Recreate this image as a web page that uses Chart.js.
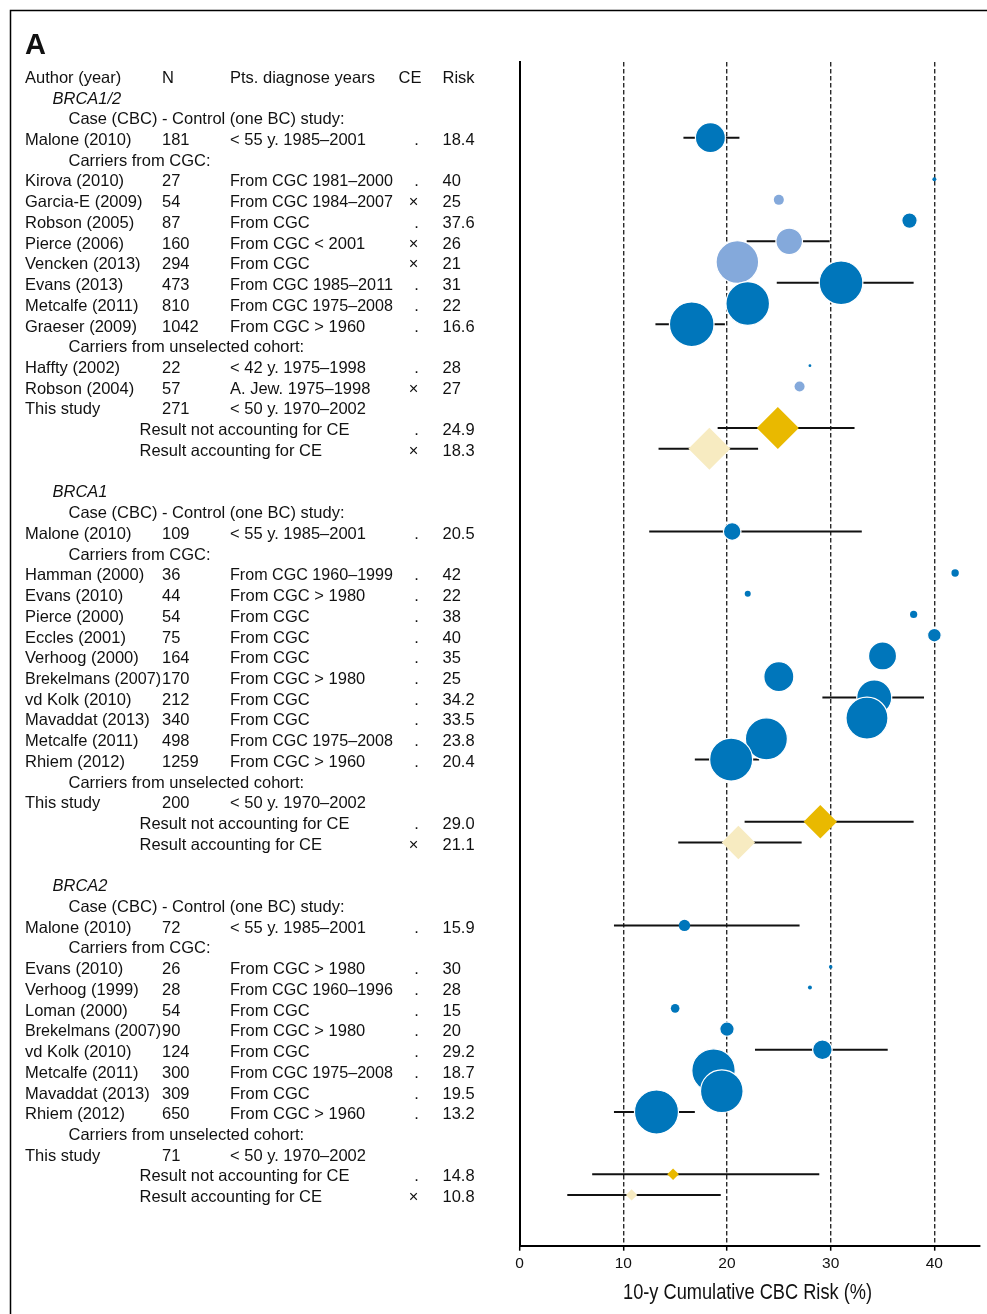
<!DOCTYPE html>
<html>
<head>
<meta charset="utf-8">
<script src="https://cdn.jsdelivr.net/npm/chart.js@4"></script>
<style>
  html, body { margin: 0; padding: 0; background: #fff; }
  canvas { display: block; }
</style>
</head>
<body>
<canvas id="forest" width="987" height="1314"></canvas>
<script>
// ---- Table rows (one entry per line of the table, top to bottom) ----
// kind: H header, G gene, S subgroup heading, P published study,
//       T this study, R pooled result of this study, B blank line
const rowKind = ['H','G','S','P','S','P','P','P','P','P','P','P','P','S','P','P','T','R','R','B',
                 'G','S','P','S','P','P','P','P','P','P','P','P','P','P','S','T','R','R','B',
                 'G','S','P','S','P','P','P','P','P','P','P','P','S','T','R','R'];

const columnHeads = ['Author (year)', 'N', 'Pts. diagnose years', 'CE', 'Risk'];

const rowLabel = [null, 'BRCA1/2', 'Case (CBC) - Control (one BC) study:', 'Malone (2010)', 'Carriers from CGC:',
  'Kirova (2010)', 'Garcia-E (2009)', 'Robson (2005)', 'Pierce (2006)', 'Vencken (2013)', 'Evans (2013)',
  'Metcalfe (2011)', 'Graeser (2009)', 'Carriers from unselected cohort:', 'Haffty (2002)', 'Robson (2004)',
  'This study', 'Result not accounting for CE', 'Result accounting for CE', null,
  'BRCA1', 'Case (CBC) - Control (one BC) study:', 'Malone (2010)', 'Carriers from CGC:',
  'Hamman (2000)', 'Evans (2010)', 'Pierce (2000)', 'Eccles (2001)', 'Verhoog (2000)', 'Brekelmans (2007)',
  'vd Kolk (2010)', 'Mavaddat (2013)', 'Metcalfe (2011)', 'Rhiem (2012)', 'Carriers from unselected cohort:',
  'This study', 'Result not accounting for CE', 'Result accounting for CE', null,
  'BRCA2', 'Case (CBC) - Control (one BC) study:', 'Malone (2010)', 'Carriers from CGC:',
  'Evans (2010)', 'Verhoog (1999)', 'Loman (2000)', 'Brekelmans (2007)', 'vd Kolk (2010)', 'Metcalfe (2011)',
  'Mavaddat (2013)', 'Rhiem (2012)', 'Carriers from unselected cohort:',
  'This study', 'Result not accounting for CE', 'Result accounting for CE'];

const rowN = [null, null, null, '181', null, '27', '54', '87', '160', '294', '473', '810', '1042', null,
  '22', '57', '271', null, null, null,
  null, null, '109', null, '36', '44', '54', '75', '164', '170', '212', '340', '498', '1259', null,
  '200', null, null, null,
  null, null, '72', null, '26', '28', '54', '90', '124', '300', '309', '650', null,
  '71', null, null];

const rowYears = [null, null, null, '< 55 y. 1985–2001', null, 'From CGC 1981–2000', 'From CGC 1984–2007',
  'From CGC', 'From CGC < 2001', 'From CGC', 'From CGC 1985–2011', 'From CGC 1975–2008', 'From CGC > 1960',
  null, '< 42 y. 1975–1998', 'A. Jew. 1975–1998', '< 50 y. 1970–2002', null, null, null,
  null, null, '< 55 y. 1985–2001', null, 'From CGC 1960–1999', 'From CGC > 1980', 'From CGC', 'From CGC',
  'From CGC', 'From CGC > 1980', 'From CGC', 'From CGC', 'From CGC 1975–2008', 'From CGC > 1960', null,
  '< 50 y. 1970–2002', null, null, null,
  null, null, '< 55 y. 1985–2001', null, 'From CGC > 1980', 'From CGC 1960–1996', 'From CGC',
  'From CGC > 1980', 'From CGC', 'From CGC 1975–2008', 'From CGC', 'From CGC > 1960', null,
  '< 50 y. 1970–2002', null, null];

// competing-event correction: '×' accounted for, '.' not
const rowCE = [null, null, null, '.', null, '.', '×', '.', '×', '×', '.', '.', '.', null, '.', '×', null, '.', '×', null,
  null, null, '.', null, '.', '.', '.', '.', '.', '.', '.', '.', '.', '.', null, null, '.', '×', null,
  null, null, '.', null, '.', '.', '.', '.', '.', '.', '.', '.', null, null, '.', '×'];

// 10-year cumulative contralateral breast cancer risk (%)
const rowRisk = [null, null, null, '18.4', null, '40', '25', '37.6', '26', '21', '31', '22', '16.6', null,
  '28', '27', null, '24.9', '18.3', null,
  null, null, '20.5', null, '42', '22', '38', '40', '35', '25', '34.2', '33.5', '23.8', '20.4', null,
  null, '29.0', '21.1', null,
  null, null, '15.9', null, '30', '28', '15', '20', '29.2', '18.7', '19.5', '13.2', null,
  null, '14.8', '10.8'];

// 95% confidence limits, where reported
const ciLow = [null, null, null, 15.8, null, null, null, null, 21.9, null, 24.8, null, 13.1, null,
  null, null, null, 19.1, 13.4, null,
  null, null, 12.5, null, null, null, null, null, null, null, 29.2, null, null, 16.9, null,
  null, 21.7, 15.3, null,
  null, null, 9.1, null, null, null, null, null, 22.7, null, null, 9.1, null,
  null, 7.0, 4.6];
const ciHigh = [null, null, null, 21.2, null, null, null, null, 29.9, null, 38.0, null, 19.8, null,
  null, null, null, 32.3, 23.0, null,
  null, null, 33.0, null, null, null, null, null, null, null, 39.0, null, null, 23.1, null,
  null, 38.0, 27.2, null,
  null, null, 27.0, null, null, null, null, null, 35.5, null, null, 16.9, null,
  null, 28.9, 19.4];

// relative weight of each estimate (drives marker size)
const weight = [null, null, null, 15, null, 2, 5, 7.7, 13.3, 21.3, 21.8, 21.8, 22.3, null,
  1.4, 5, null, 21, 21, null,
  null, null, 8.8, null, 3.7, 3, 3.6, 6.8, 14, 15, 17.5, 21, 21, 21.5, null,
  null, 16.7, 16.7, null,
  null, null, 5.7, null, 1.8, 2, 4.3, 7.2, 9.8, 21.7, 21.3, 22, null,
  null, 5.8, 5.7];

const xTicks = [0, 10, 20, 30, 40];
const xTitle = '10-y Cumulative CBC Risk (%)';
const panelLetter = 'A';

// ---- colours ----
const DARK_BLUE = '#0076bb';
const LIGHT_BLUE = '#84a9db';
const GOLD = '#e9b900';
const PALE_GOLD = '#f7ebc1';

const rows = rowKind.map((k, i) => i);

// confidence interval segments
const ciDatasets = rows.filter(i => ciLow[i] != null).map(i => ({
  type: 'scatter',
  data: [{ x: ciLow[i], y: i }, { x: ciHigh[i], y: i }],
  showLine: true,
  borderColor: '#111',
  borderWidth: 2,
  pointRadius: 0,
  order: 3
}));

const studyRows = rows.filter(i => rowKind[i] === 'P');
const resultRows = rows.filter(i => rowKind[i] === 'R');

const studyDataset = {
  type: 'bubble',
  data: studyRows.map(i => ({ x: Number(rowRisk[i]), y: i, r: weight[i] })),
  backgroundColor: studyRows.map(i => rowCE[i] === '×' ? LIGHT_BLUE : DARK_BLUE),
  borderColor: '#fff',
  // thin white rim only on the larger discs so the tiny ones stay visible
  borderWidth: c => (c.raw && c.raw.r >= 6) ? 1.2 : 0,
  order: 0
};

const resultDataset = {
  type: 'bubble',
  data: resultRows.map(i => ({ x: Number(rowRisk[i]), y: i, r: weight[i] })),
  backgroundColor: resultRows.map(i => rowCE[i] === '×' ? PALE_GOLD : GOLD),
  borderWidth: 0,
  pointStyle: 'rectRot',
  order: 1
};

const TEXT_FONT = '"Liberation Sans", Arial, sans-serif';

// table text, axis title and figure frame
const tablePlugin = {
  id: 'studyTable',
  afterDraw(chart) {
    const { ctx, chartArea } = chart;
    const ys = chart.scales.y;
    const base = i => ys.getPixelForValue(i) + 7.3;
    ctx.save();

    // frame
    ctx.strokeStyle = '#000';
    ctx.lineWidth = 1.5;
    ctx.beginPath();
    ctx.moveTo(987, 10.5);
    ctx.lineTo(10.5, 10.5);
    ctx.lineTo(10.5, 1314);
    ctx.stroke();

    ctx.fillStyle = '#111';
    ctx.textBaseline = 'alphabetic';
    ctx.textAlign = 'left';
    ctx.font = '700 29px ' + TEXT_FONT;
    ctx.fillText(panelLetter, 25, 54);

    // axis title, set condensed
    ctx.textAlign = 'center';
    ctx.font = '21.5px ' + TEXT_FONT;
    ctx.fillText(xTitle, 747.5, chartArea.bottom + 52.8, 249);

    const F = '16.5px ' + TEXT_FONT;
    const colAuthor = 25, colN = 162, colYears = 230, colRisk = 442.5;

    rows.forEach(i => {
      const y = base(i);
      const k = rowKind[i];
      ctx.font = F;
      ctx.textAlign = 'left';
      if (k === 'H') {
        ctx.fillText(columnHeads[0], colAuthor, y);
        ctx.fillText(columnHeads[1], colN, y);
        ctx.fillText(columnHeads[2], colYears, y);
        ctx.fillText(columnHeads[3], 398.5, y);
        ctx.fillText(columnHeads[4], colRisk, y);
        return;
      }
      if (k === 'G') {
        ctx.font = 'italic ' + F;
        ctx.fillText(rowLabel[i], 52.5, y);
        return;
      }
      if (k === 'S') { ctx.fillText(rowLabel[i], 68.5, y); return; }
      if (k === 'P' || k === 'T') {
        ctx.fillText(rowLabel[i], colAuthor, y, 136);
        ctx.fillText(rowN[i], colN, y);
        ctx.fillText(rowYears[i], colYears, y, 163);
      }
      if (k === 'R') ctx.fillText(rowLabel[i], 139.5, y);
      if (rowCE[i]) {
        ctx.textAlign = 'center';
        ctx.fillText(rowCE[i], rowCE[i] === '×' ? 413.5 : 416.5, y);
        ctx.textAlign = 'left';
      }
      if (rowRisk[i]) ctx.fillText(rowRisk[i], colRisk, y);
    });
    ctx.restore();
  }
};

new Chart(document.getElementById('forest'), {
  type: 'bubble',
  data: { datasets: [studyDataset, resultDataset, ...ciDatasets] },
  options: {
    responsive: false,
    animation: false,
    devicePixelRatio: 1,
    events: [],
    clip: false,
    layout: { autoPadding: false, padding: { left: 519.6, right: 7, top: 62, bottom: 0 } },
    plugins: { legend: { display: false }, tooltip: { enabled: false } },
    scales: {
      x: {
        type: 'linear',
        min: 0,
        max: 44.4,
        afterBuildTicks: s => { s.ticks = xTicks.map(v => ({ value: v })); },
        afterFit: s => { s.height = 68.3; },
        ticks: {
          color: '#111',
          padding: 4,
          font: { family: TEXT_FONT, size: 15.5 }
        },
        grid: {
          color: c => (c.tick && c.tick.value === 0) ? 'rgba(0,0,0,0)' : '#2a2a2a',
          lineWidth: 1.4,
          tickColor: '#000',
          tickWidth: 1.5,
          tickLength: 5
        },
        border: { display: true, color: '#000', width: 2, dash: [4.5, 2.5] },
        title: { display: false, text: xTitle }
      },
      y: {
        type: 'linear',
        reverse: true,
        min: -0.651,
        max: 56.45,
        afterFit: s => { s.width = 0; },
        ticks: { display: false },
        grid: { display: false, drawTicks: false },
        border: { display: true, color: '#000', width: 2 }
      }
    }
  },
  plugins: [tablePlugin]
});
</script>
</body>
</html>
